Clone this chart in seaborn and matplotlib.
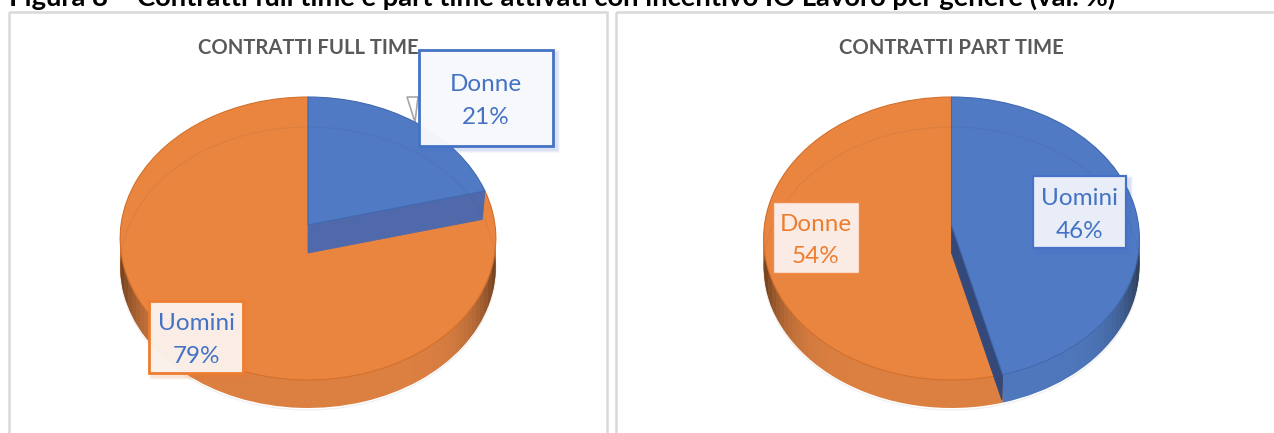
#!/usr/bin/env python3
# -*- coding: utf-8 -*-

import numpy as np
import seaborn as sns
import matplotlib

matplotlib.use("Agg")
import matplotlib.pyplot as plt
from matplotlib.colors import LinearSegmentedColormap
from matplotlib.patches import Rectangle
from matplotlib.transforms import Transform

figure_title = "Figura 8 – Contratti full time e part time attivati con incentivo IO Lavoro per genere (val. %)"
panel_titles = ["CONTRATTI FULL TIME", "CONTRATTI PART TIME"]

# first value is the blue slice, second the orange one
full_labels = ["Donne", "Uomini"]
full_values = [21, 79]
part_labels = ["Uomini", "Donne"]
part_values = [46, 54]

BLUE, ORANGE = sns.color_palette(["#507ac4", "#ea8540"])
BLUE_WALL, ORANGE_WALL = sns.color_palette(["#4f78bc", "#dc8042"])
BLUE_EDGE, ORANGE_EDGE = "#4069b0", "#d2702c"
TEXT_BLUE, TEXT_ORANGE = "#4472c4", "#ed7d31"
DROP = 28


class Tilt(Transform):
    """Perspective of a flat unit pie, output in image pixels."""

    input_dims = 2
    output_dims = 2

    def __init__(self, cx, cy=225, drop=0):
        super().__init__()
        self.cx, self.cy, self.drop = cx, cy, drop

    def transform_non_affine(self, xy):
        xy = np.asarray(xy, dtype=float)
        w = 1 + 0.0954 * xy[:, 1]
        return np.column_stack(
            [self.cx + 187 * xy[:, 0] / w, self.cy + self.drop - 140.2 * xy[:, 1] / w]
        )


def flat_pie(ax, values, cx, drop, colors, edges=None, lw=0.0):
    wedges, _ = ax.pie(values, startangle=90, counterclock=False, colors=colors)
    tilt = Tilt(cx, drop=drop)
    for i, wedge in enumerate(wedges):
        wedge.set_transform(tilt + ax.transData)
        if edges is not None:
            wedge.set_edgecolor(edges[i] if isinstance(edges, list) else edges)
        wedge.set_linewidth(lw)
    return wedges


def draw_pie(ax, values, cx, face_color):
    # side wall as a stack of flat pies
    for k in range(DROP, 0, -1):
        flat_pie(ax, values, cx, k, [BLUE_WALL, ORANGE_WALL])

    # darker ends of the wall
    clip = flat_pie(ax, [1], cx, DROP, ["none"])[0]
    xs = np.linspace(cx - 192, cx + 192, 97)
    shade = np.abs(np.linspace(-1, 1, 96)) ** 9
    cmap = LinearSegmentedColormap.from_list("wall", [(0, 0, 0, 0.0), (0.12, 0.07, 0.03, 0.62)])
    mesh = ax.pcolormesh(xs, [200, 420], shade[None, :], cmap=cmap, vmin=0, vmax=1, shading="flat")
    mesh.set_clip_path(clip)

    # orange top, then the cut face of the blue slice, then the blue top
    flat_pie(ax, values, cx, 0, ["none", ORANGE], edges=["none", ORANGE_EDGE], lw=0.8)
    angle = np.deg2rad(90 - 360 * values[0] / sum(values))
    rim = np.array([[0, 0], [np.cos(angle), np.sin(angle)]])
    upper = Tilt(cx).transform(rim)
    lower = Tilt(cx, drop=DROP).transform(rim * 0.985)
    face = np.vstack([upper, lower[::-1]])
    ax.fill(face[:, 0], face[:, 1], color=face_color, lw=0.6)
    flat_pie(ax, values, cx, 0, [BLUE, "none"], edges=[BLUE_EDGE, "none"], lw=0.8)

    # faint bottom rim showing through the top
    flat_pie(ax, [1], cx, DROP + 2, ["none"], edges="#40404014", lw=0.9)


def label_box(ax, x0, y0, x1, y1, text, text_color, edge, fill, lw=2.0):
    for grow, a in [(7, 0.05), (5, 0.07), (3, 0.09)]:
        ax.add_patch(
            Rectangle((x0 + 3 - grow / 2, y0 + 3 - grow / 2), x1 - x0 + grow, y1 - y0 + grow,
                      facecolor=edge, edgecolor="none", alpha=a, zorder=6)
        )
    ax.add_patch(
        Rectangle((x0, y0), x1 - x0, y1 - y0, facecolor=fill, edgecolor=edge, linewidth=lw, zorder=7)
    )
    ax.text((x0 + x1) / 2, (y0 + y1) / 2 + 3, text, color=text_color, fontsize=17.5,
            ha="center", va="center", linespacing=1.65, zorder=8)


if __name__ == "__main__":
    sns.set_theme(style="white")
    plt.rcParams["font.family"] = ["Lato", "DejaVu Sans"]

    fig = plt.figure(figsize=(12.74, 4.33), dpi=100)
    ax = fig.add_axes([0, 0, 1, 1])

    # panel frames
    for x0, x1 in [(9, 607), (616, 1290)]:
        ax.add_patch(Rectangle((x0, 12), x1 - x0, 440, fill=False, edgecolor="#d9d9d9", linewidth=1.8))

    # leader of the Donne callout, behind the pie
    ax.fill([407, 418, 415], [97, 97, 122], facecolor="white", edgecolor="#a6a6a6", linewidth=1.2)

    draw_pie(ax, full_values, 308, "#5069ab")
    draw_pie(ax, part_values, 951.5, "#34497a")

    ax.text(9, 6, figure_title, fontsize=19.7, fontweight="bold", color="black", ha="left", va="baseline")
    ax.text(308, 48.5, panel_titles[0], fontsize=14.6, fontweight="bold", color="#595959", ha="center", va="center")
    ax.text(951, 48.5, panel_titles[1], fontsize=14.6, fontweight="bold", color="#595959", ha="center", va="center")

    label_box(ax, 419, 50, 553, 146, f"{full_labels[0]}\n{full_values[0]}%", TEXT_BLUE, TEXT_BLUE, "#f8f9fcf8")
    label_box(ax, 149, 301, 243, 373, f"{full_labels[1]}\n{full_values[1]}%", TEXT_BLUE, TEXT_ORANGE, "#fbf2ecf6")
    label_box(ax, 1033, 176, 1126, 248, f"{part_labels[0]}\n{part_values[0]}%", TEXT_BLUE, TEXT_BLUE, "#edf1f9f8", lw=1.6)
    label_box(ax, 773, 202, 859, 273, f"{part_labels[1]}\n{part_values[1]}%", TEXT_ORANGE, "#f08a48", "#fbf1ebf6", lw=1.0)

    ax.set_aspect("auto")
    ax.set_xlim(0, 1274)
    ax.set_ylim(433, 0)
    ax.axis("off")

    fig.savefig("out.png", dpi=100)
